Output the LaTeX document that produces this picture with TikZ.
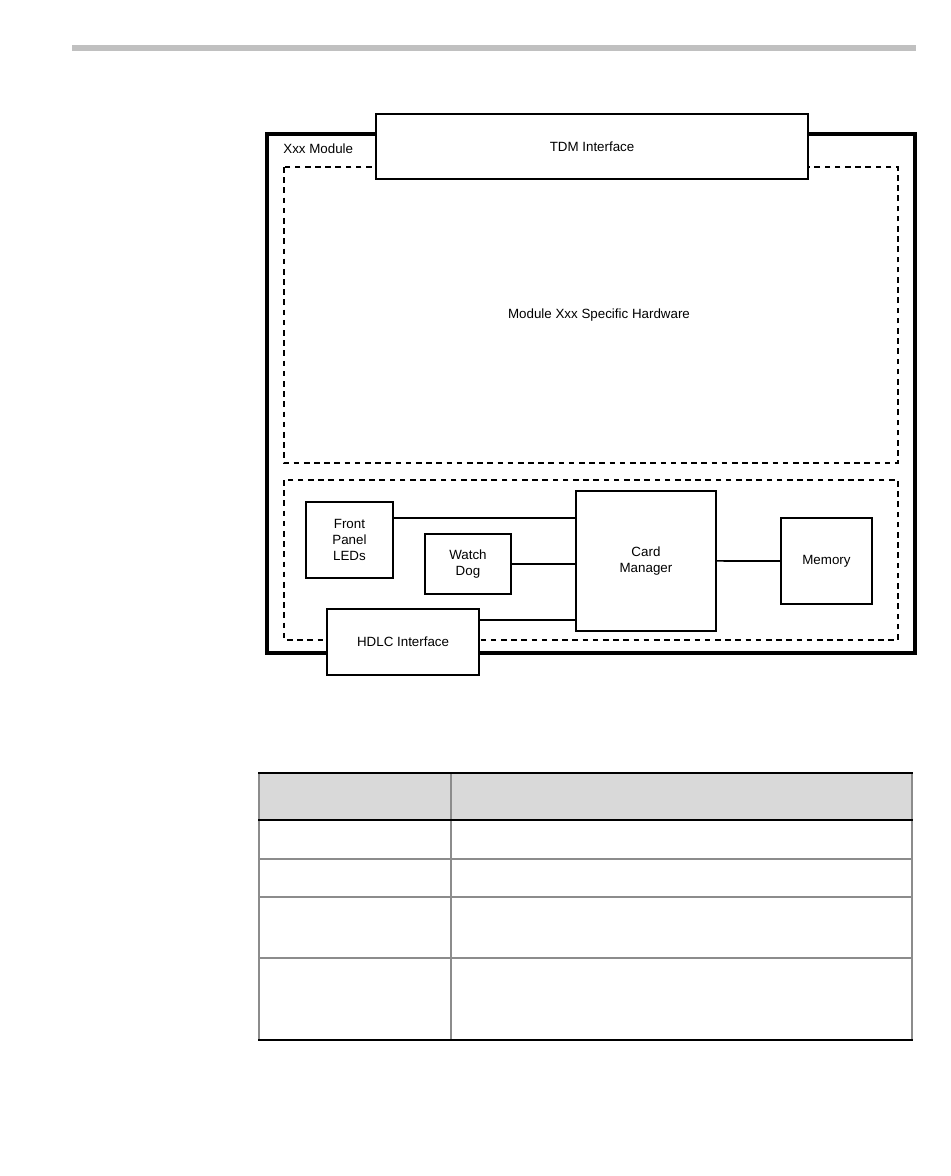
\documentclass[tikz,border=0pt]{standalone}
\usepackage{fontspec}
\setmainfont{Liberation Sans}
\usetikzlibrary{positioning}
\definecolor{barGray}{HTML}{C0C0C0}
\definecolor{headGray}{HTML}{D9D9D9}
\definecolor{ruleGray}{HTML}{8C8C8C}
\tikzset{
unit/.style={
  rectangle,
  draw,
  line width=1.1pt,
  fill=white,
  align=center,
  inner sep=0pt,
  anchor=north west},
iface/.style={unit, line width=1.25pt},
zone/.style={draw, line width=0.6pt, dash pattern=on 3.2pt off 2.6pt},
line/.style={draw, line width=0.9pt},
thinrule/.style={draw=ruleGray, line width=0.7pt},
thickrule/.style={draw=black, line width=1.4pt}
}

\begin{document}
\begin{tikzpicture}[x=0.02cm, y=-0.02cm, font=\fontsize{7.6}{9}\selectfont]
    \useasboundingbox (0,0) rectangle (950,1176);
    \fill[barGray] (72,45) rectangle (916,51);
    % module frame and zones
    \draw[line width=2pt] (267,134) rectangle (915,653);
    \draw[zone] (284,167) rectangle (898,463);
    \draw[zone] (284,480) rectangle (898,640);
    \node[anchor=west, inner sep=0pt] (xxxlabel) at (283,149) {Xxx Module};
    \node (hwlabel) at (599,315) {Module Xxx Specific Hardware};
    % blocks
    \node[iface, minimum width=8.64cm, minimum height=1.3cm] (tdm) at (375,113) {TDM Interface};
    \node[iface, minimum width=3.04cm, minimum height=1.32cm] (hdlc) at (326,608) {HDLC Interface};
    \node[unit, minimum width=1.74cm, minimum height=1.52cm] (front) at (305,501) {Front\\Panel\\LEDs};
    \node[unit, minimum width=1.72cm, minimum height=1.2cm] (watch) at (424,533) {Watch\\Dog};
    \node[unit, minimum width=2.8cm, minimum height=2.8cm] (card) at (575,490) {Card\\Manager};
    \node[unit, minimum width=1.82cm, minimum height=1.72cm] (memory) at (780,517) {Memory};
    % connections
    \coordinate (f1) at ([yshift=0.44cm]front.east);
    \coordinate (h1) at ([yshift=-0.24cm]hdlc.north east);
    \path [line] (f1) -- (f1 -| card.west);
    \path [line] (watch.east) -- (watch.east -| card.west);
    \path [line] (h1) -- (h1 -| card.west);
    \path [line] (card.east) -- (memory.west);
    % table
    \fill[headGray] (259,773) rectangle (912,820);
    \draw[thinrule] (259,859) -- (912,859);
    \draw[thinrule] (259,897) -- (912,897);
    \draw[thinrule] (259,958) -- (912,958);
    \draw[thinrule] (259,773) -- (259,1040);
    \draw[thinrule] (451,773) -- (451,1040);
    \draw[thinrule] (912,773) -- (912,1040);
    \draw[thickrule] (258,773) -- (913,773);
    \draw[thickrule] (258,820) -- (913,820);
    \draw[thickrule] (258,1040) -- (913,1040);
\end{tikzpicture}
\end{document}
